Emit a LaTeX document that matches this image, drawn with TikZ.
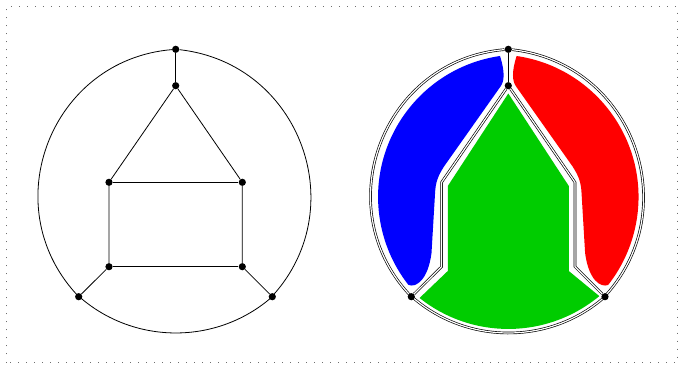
\documentclass[tikz,border=0pt]{standalone}
\usepackage{tikz}
\usetikzlibrary{backgrounds}
\definecolor{fblue}{RGB}{0,0,255}
\definecolor{fred}{RGB}{255,0,0}
\definecolor{fgreen}{RGB}{0,204,0}
\definecolor{fframe}{RGB}{110,110,110}

\begin{document}
\begin{tikzpicture}[
  x=0.75pt, y=0.75pt,
  vert/.style={circle, fill=black, inner sep=0pt, minimum size=5.4pt},
  edge/.style={draw=black, line width=0.6pt},
  ribbon/.style={draw=black, line width=0.5pt, double=white, double distance=0.9pt},
  frame/.style={draw=fframe, line width=0.75pt, dash pattern=on 0.75pt off 5.25pt},
  sidearc/.style={bend right=63.8, looseness=1.18},
  basearc/.style={bend right=41.4, looseness=0.97}
]
\useasboundingbox (0,0) rectangle (678,364);
\draw[frame] (6.7,1.5) rectangle (677,357.3);

% left graph
\node[vert] (otop1) at (175.7,314.7) {};
\node[vert] (itop1) at (175.7,278.3) {};
\node[vert] (rtl1) at (109,181.7) {};
\node[vert] (rtr1) at (242.3,181.7) {};
\node[vert] (rbl1) at (109,97.3) {};
\node[vert] (rbr1) at (242.3,97.3) {};
\node[vert] (oleft1) at (78.7,67.3) {};
\node[vert] (oright1) at (272.3,67.3) {};

\draw[edge] (otop1) -- (itop1);
\draw[edge] (itop1) -- (rtl1) -- (rbl1) -- (oleft1);
\draw[edge] (itop1) -- (rtr1) -- (rbr1) -- (oright1);
\draw[edge] (rtl1) -- (rtr1);
\draw[edge] (rbl1) -- (rbr1);
\draw[edge] (otop1) to[sidearc] (oleft1) to[basearc] (oright1) to[sidearc] (otop1);

% right graph
\node[vert] (otop2) at (508.3,314.7) {};
\node[vert] (itop2) at (508.3,278.3) {};
\coordinate (rtl2) at (441.6,181.7);
\coordinate (rtr2) at (575,181.7);
\coordinate (rbl2) at (441.6,97.3);
\coordinate (rbr2) at (575,97.3);
\node[vert] (oleft2) at (411.3,67.3) {};
\node[vert] (oright2) at (605,67.3) {};

\begin{scope}[on background layer]
% faces
\fill[fblue] (500,308) arc[start angle=98.3, end angle=218.1, radius=142.5]
  .. controls (416,76) and (428,84) .. (431.5,111) -- (435,170)
  .. controls (435.5,182) and (438,188) .. (444,197.5) -- (500.5,277.5)
  .. controls (504.5,283) and (505,292) .. (500,308) -- cycle;
\fill[fred] (516.6,308) arc[start angle=81.7, end angle=-38.1, radius=142.5]
  .. controls (600.6,76) and (588.6,84) .. (585.1,111) -- (581.6,170)
  .. controls (581.1,182) and (578.6,188) .. (572.6,197.5) -- (516.1,277.5)
  .. controls (512.1,283) and (511.6,292) .. (516.6,308) -- cycle;
\fill[fgreen] (508.3,270.5) -- (568.8,178) -- (568.8,93) -- (599.3,67.9)
  arc[start angle=-50.3, end angle=-128.5, radius=142.5]
  -- (447.8,93) -- (447.8,178) -- cycle;

\draw[edge] (otop2) -- (itop2);
\draw[ribbon] (itop2) -- (rtl2) -- (rbl2) -- (oleft2);
\draw[ribbon] (itop2) -- (rtr2) -- (rbr2) -- (oright2);
\draw[ribbon] (otop2) to[sidearc] (oleft2) to[basearc] (oright2) to[sidearc] (otop2);
\end{scope}
\end{tikzpicture}
\end{document}
